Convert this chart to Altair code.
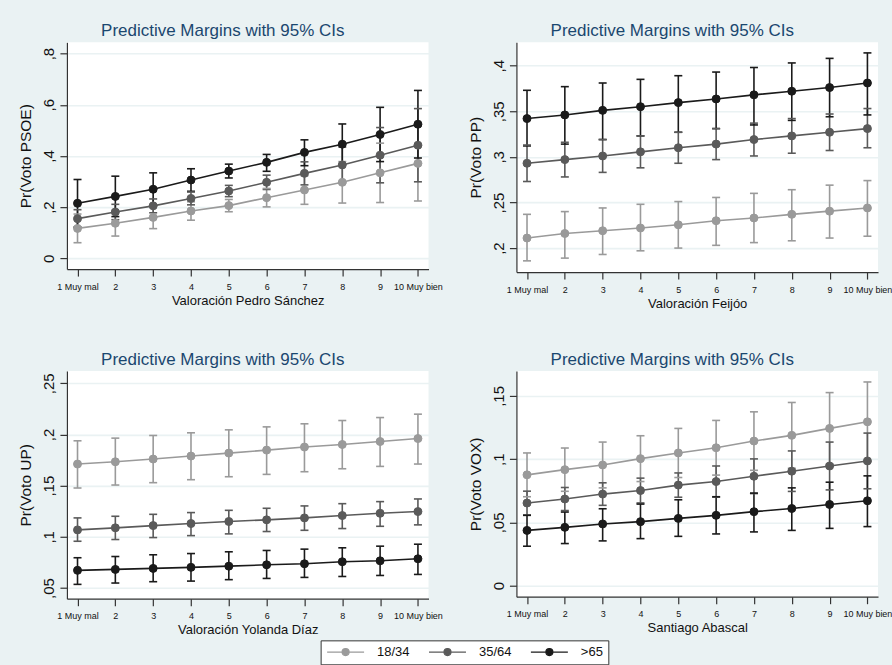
import json
import altair as alt
import pandas as pd

# ---------------- data ----------------
x_vals = [1, 2, 3, 4, 5, 6, 7, 8, 9, 10]
x_labels = ["1 Muy mal", "2", "3", "4", "5", "6", "7", "8", "9", "10 Muy bien"]
groups = ["18/34", "35/64", ">65"]
colors = ["#9a9a9a", "#5a5a5a", "#1a1a1a"]

# PSOE
psoe_1834 = [0.117, 0.137, 0.160, 0.185, 0.206, 0.237, 0.267, 0.297, 0.334, 0.371]
psoe_1834_lo = [0.061, 0.087, 0.116, 0.149, 0.182, 0.201, 0.211, 0.216, 0.218, 0.224]
psoe_1834_hi = [0.173, 0.187, 0.204, 0.221, 0.230, 0.273, 0.323, 0.378, 0.450, 0.518]
psoe_3564 = [0.155, 0.181, 0.205, 0.234, 0.263, 0.297, 0.332, 0.365, 0.403, 0.442]
psoe_3564_lo = [0.120, 0.151, 0.178, 0.209, 0.241, 0.269, 0.287, 0.295, 0.295, 0.299]
psoe_3564_hi = [0.190, 0.211, 0.232, 0.259, 0.285, 0.325, 0.377, 0.435, 0.511, 0.585]
psoe_65 = [0.215, 0.242, 0.270, 0.306, 0.341, 0.375, 0.414, 0.446, 0.484, 0.524]
psoe_65_lo = [0.122, 0.163, 0.206, 0.262, 0.314, 0.340, 0.362, 0.367, 0.378, 0.392]
psoe_65_hi = [0.308, 0.321, 0.334, 0.350, 0.368, 0.406, 0.463, 0.525, 0.590, 0.656]

# PP
pp_1834 = [0.211, 0.216, 0.219, 0.222, 0.2255, 0.230, 0.233, 0.237, 0.2405, 0.244]
pp_1834_lo = [0.186, 0.189, 0.193, 0.197, 0.200, 0.203, 0.206, 0.208, 0.211, 0.213]
pp_1834_hi = [0.237, 0.240, 0.244, 0.248, 0.251, 0.2555, 0.260, 0.264, 0.269, 0.274]
pp_3564 = [0.293, 0.297, 0.301, 0.3055, 0.310, 0.314, 0.319, 0.323, 0.327, 0.331]
pp_3564_lo = [0.273, 0.278, 0.283, 0.288, 0.293, 0.297, 0.301, 0.304, 0.307, 0.310]
pp_3564_hi = [0.313, 0.316, 0.319, 0.323, 0.327, 0.331, 0.337, 0.342, 0.347, 0.353]
pp_65 = [0.342, 0.346, 0.351, 0.355, 0.3595, 0.3635, 0.368, 0.372, 0.376, 0.381]
pp_65_lo = [0.312, 0.314, 0.319, 0.323, 0.327, 0.331, 0.335, 0.340, 0.344, 0.346]
pp_65_hi = [0.373, 0.377, 0.381, 0.385, 0.389, 0.393, 0.398, 0.403, 0.408, 0.414]

# UP
up_1834 = [0.1711, 0.1733, 0.1760, 0.1789, 0.1818, 0.1847, 0.1877, 0.1902, 0.1931, 0.1960]
up_1834_lo = [0.1477, 0.1506, 0.1529, 0.1558, 0.1587, 0.1610, 0.1636, 0.1665, 0.1688, 0.1711]
up_1834_hi = [0.1938, 0.1964, 0.1990, 0.2016, 0.2045, 0.2074, 0.2104, 0.2136, 0.2165, 0.2198]
up_3564 = [0.1068, 0.1088, 0.1110, 0.1130, 0.1150, 0.1166, 0.1185, 0.1208, 0.1230, 0.1247]
up_3564_lo = [0.0957, 0.0974, 0.0993, 0.1012, 0.1029, 0.1052, 0.1064, 0.1081, 0.1103, 0.1117]
up_3564_hi = [0.1185, 0.1201, 0.1220, 0.1237, 0.1259, 0.1279, 0.1302, 0.1324, 0.1344, 0.1370]
up_65 = [0.0673, 0.0682, 0.0692, 0.0702, 0.0714, 0.0727, 0.0737, 0.0757, 0.0766, 0.0786]
up_65_lo = [0.0536, 0.0549, 0.0562, 0.0568, 0.0582, 0.0594, 0.0604, 0.0613, 0.0623, 0.0633]
up_65_hi = [0.0796, 0.0808, 0.0825, 0.0837, 0.0854, 0.0867, 0.0880, 0.0893, 0.0909, 0.0928]

# VOX
vox_1834 = [0.0876, 0.0917, 0.0954, 0.1004, 0.1049, 0.1090, 0.1143, 0.1188, 0.1243, 0.1295]
vox_1834_lo = [0.0703, 0.0746, 0.0773, 0.0823, 0.0855, 0.0874, 0.0912, 0.0928, 0.0960, 0.0980]
vox_1834_hi = [0.1049, 0.1088, 0.1135, 0.1185, 0.1243, 0.1306, 0.1374, 0.1448, 0.1526, 0.1610]
vox_3564 = [0.0653, 0.0685, 0.0724, 0.0752, 0.0795, 0.0823, 0.0865, 0.0905, 0.0946, 0.0986]
vox_3564_lo = [0.0559, 0.0594, 0.0635, 0.0654, 0.0699, 0.0700, 0.0728, 0.0745, 0.0757, 0.0766]
vox_3564_hi = [0.0747, 0.0776, 0.0813, 0.0850, 0.0891, 0.0946, 0.1002, 0.1065, 0.1135, 0.1206]
vox_65 = [0.0437, 0.0461, 0.0488, 0.0506, 0.0532, 0.0556, 0.0585, 0.0610, 0.0642, 0.0671]
vox_65_lo = [0.0312, 0.0333, 0.0354, 0.0372, 0.0390, 0.0409, 0.0425, 0.0437, 0.0453, 0.0467]
vox_65_hi = [0.0556, 0.0582, 0.0608, 0.0645, 0.0679, 0.0703, 0.0732, 0.0773, 0.0818, 0.0868]

psoe_ticks = [0, 0.2, 0.4, 0.6, 0.8]
pp_ticks = [0.2, 0.25, 0.3, 0.35, 0.4]
up_ticks = [0.05, 0.1, 0.15, 0.2, 0.25]
vox_ticks = [0, 0.05, 0.1, 0.15]

# ---------------- build ----------------
FONT = "Liberation Sans"
TITLE = "Predictive Margins with 95% CIs"


def make_df(series):
    rows = []
    for g, (p, lo, hi) in zip(groups, series):
        for x, a, b, c in zip(x_vals, p, lo, hi):
            rows.append({"group": g, "x": x, "p": a, "lo": b, "hi": c})
    return pd.DataFrame(rows)


x_label_expr = json.dumps(x_labels) + "[datum.value - 1]"
y_label_expr = "replace(format(datum.value, '~g'), '0.', ',')"


def panel(series, ytitle, xtitle, ydom, yticks, w, h):
    df = make_df(series)
    base = alt.Chart(df)
    xs = alt.Scale(domain=[0.72, 10.28], nice=False, zero=False)
    ys = alt.Scale(domain=ydom, nice=False, zero=False)
    xaxis = alt.Axis(values=x_vals, labelExpr=x_label_expr, title=xtitle, grid=False,
                     labelFontSize=9, labelPadding=6, titleFontSize=13, titlePadding=3,
                     labelFont=FONT, titleFont=FONT)
    yaxis = alt.Axis(values=yticks, labelExpr=y_label_expr, title=ytitle, grid=True,
                     labelFontSize=15, labelAngle=270, labelAlign="center",
                     labelBaseline="bottom", labelPadding=3, titleFontSize=15.5,
                     titlePadding=8, minExtent=25, maxExtent=25,
                     labelFont=FONT, titleFont=FONT)
    X = alt.X("x:Q", scale=xs, axis=xaxis)
    cscale = alt.Scale(domain=groups, range=colors)
    leg = alt.Legend(title=None)
    S = alt.Stroke("group:N", scale=cscale, legend=leg)
    F = alt.Fill("group:N", scale=cscale, legend=leg)

    rules = base.mark_rule(strokeWidth=1.6).encode(
        x=X, y=alt.Y("lo:Q", scale=ys, axis=yaxis), y2="hi:Q", stroke=S)
    cap_lo = base.mark_tick(orient="horizontal", size=8, thickness=1.6, opacity=1).encode(
        x=X, y=alt.Y("lo:Q", scale=ys, axis=yaxis), fill=F)
    cap_hi = base.mark_tick(orient="horizontal", size=8, thickness=1.6, opacity=1).encode(
        x=X, y=alt.Y("hi:Q", scale=ys, axis=yaxis), fill=F)
    line = base.mark_line(strokeWidth=1.6).encode(
        x=X, y=alt.Y("p:Q", scale=ys, axis=yaxis), stroke=S, order="x:Q")
    pts = base.mark_point(filled=True, shape="circle", size=64, opacity=1, strokeWidth=1).encode(
        x=X, y=alt.Y("p:Q", scale=ys, axis=yaxis), fill=F, stroke=S)
    return alt.layer(rules, cap_lo, cap_hi, line, pts).properties(
        width=w, height=h,
        title=alt.TitleParams(TITLE, fontSize=17, font=FONT, fontWeight="normal",
                              color="#1A476F", anchor="middle", frame="group",
                              offset=-11, baseline="alphabetic", dx=-25),
    )


p1 = panel([(psoe_1834, psoe_1834_lo, psoe_1834_hi), (psoe_3564, psoe_3564_lo, psoe_3564_hi),
            (psoe_65, psoe_65_lo, psoe_65_hi)],
           "Pr(Voto PSOE)", "Valoración Pedro Sánchez", [-0.042, 0.844], psoe_ticks, 362, 227)
p2 = panel([(pp_1834, pp_1834_lo, pp_1834_hi), (pp_3564, pp_3564_lo, pp_3564_hi),
            (pp_65, pp_65_lo, pp_65_hi)],
           "Pr(Voto PP)", "Valoración Feijóo", [0.1737, 0.4256], pp_ticks, 362, 230)
p3 = panel([(up_1834, up_1834_lo, up_1834_hi), (up_3564, up_3564_lo, up_3564_hi),
            (up_65, up_65_lo, up_65_hi)],
           "Pr(Voto UP)", "Valoración Yolanda Díaz", [0.0396, 0.262], up_ticks, 362, 228)
p4 = panel([(vox_1834, vox_1834_lo, vox_1834_hi), (vox_3564, vox_3564_lo, vox_3564_hi),
            (vox_65, vox_65_lo, vox_65_hi)],
           "Pr(Voto VOX)", "Santiago Abascal", [-0.0087, 0.1697], vox_ticks, 362, 226)

PAD_L, PAD_T = 19, 22
ORIGIN_X, ORIGIN_Y = 66.7, 42  # top-left of first plot area on the page

# legend symbol: short line with a dot in the middle (unit = sqrt(100)/2 = 5 px)
LEG_SYMBOL = "M-3.7,0H3.7M-0.7,0A0.7,0.7,0,1,0,0.7,0A0.7,0.7,0,1,0,-0.7,0Z"

chart = alt.vconcat(
    alt.hconcat(p1, p2, spacing=26),
    alt.hconcat(p3, p4, spacing=26),
    spacing=41,
).properties(
    background="#EAF2F3",
    padding={"left": PAD_L, "top": PAD_T, "right": 0, "bottom": 0},
).configure_view(
    fill="white", stroke=None,
).configure_axis(
    domainColor="#333333", tickColor="#333333", labelColor="#111111", titleColor="#111111",
    titleFontWeight="normal", tickSize=7,
    domainWidth=1.2, tickWidth=1.2, gridColor="#EAF2F3", gridWidth=1.6,
).configure_legend(
    orient="none", legendX=320.7 - ORIGIN_X, legendY=640.7 - ORIGIN_Y, direction="horizontal",
    labelFont=FONT, labelFontSize=13, labelColor="#111111",
    symbolType=LEG_SYMBOL, symbolSize=100, symbolOffset=13.5, symbolStrokeWidth=1.2,
    labelOffset=25, columnPadding=16,
    padding=5, strokeColor="#333333", fillColor="white", cornerRadius=0,
)

chart.save("out.html", embed_options={"renderer": "svg", "actions": False})
